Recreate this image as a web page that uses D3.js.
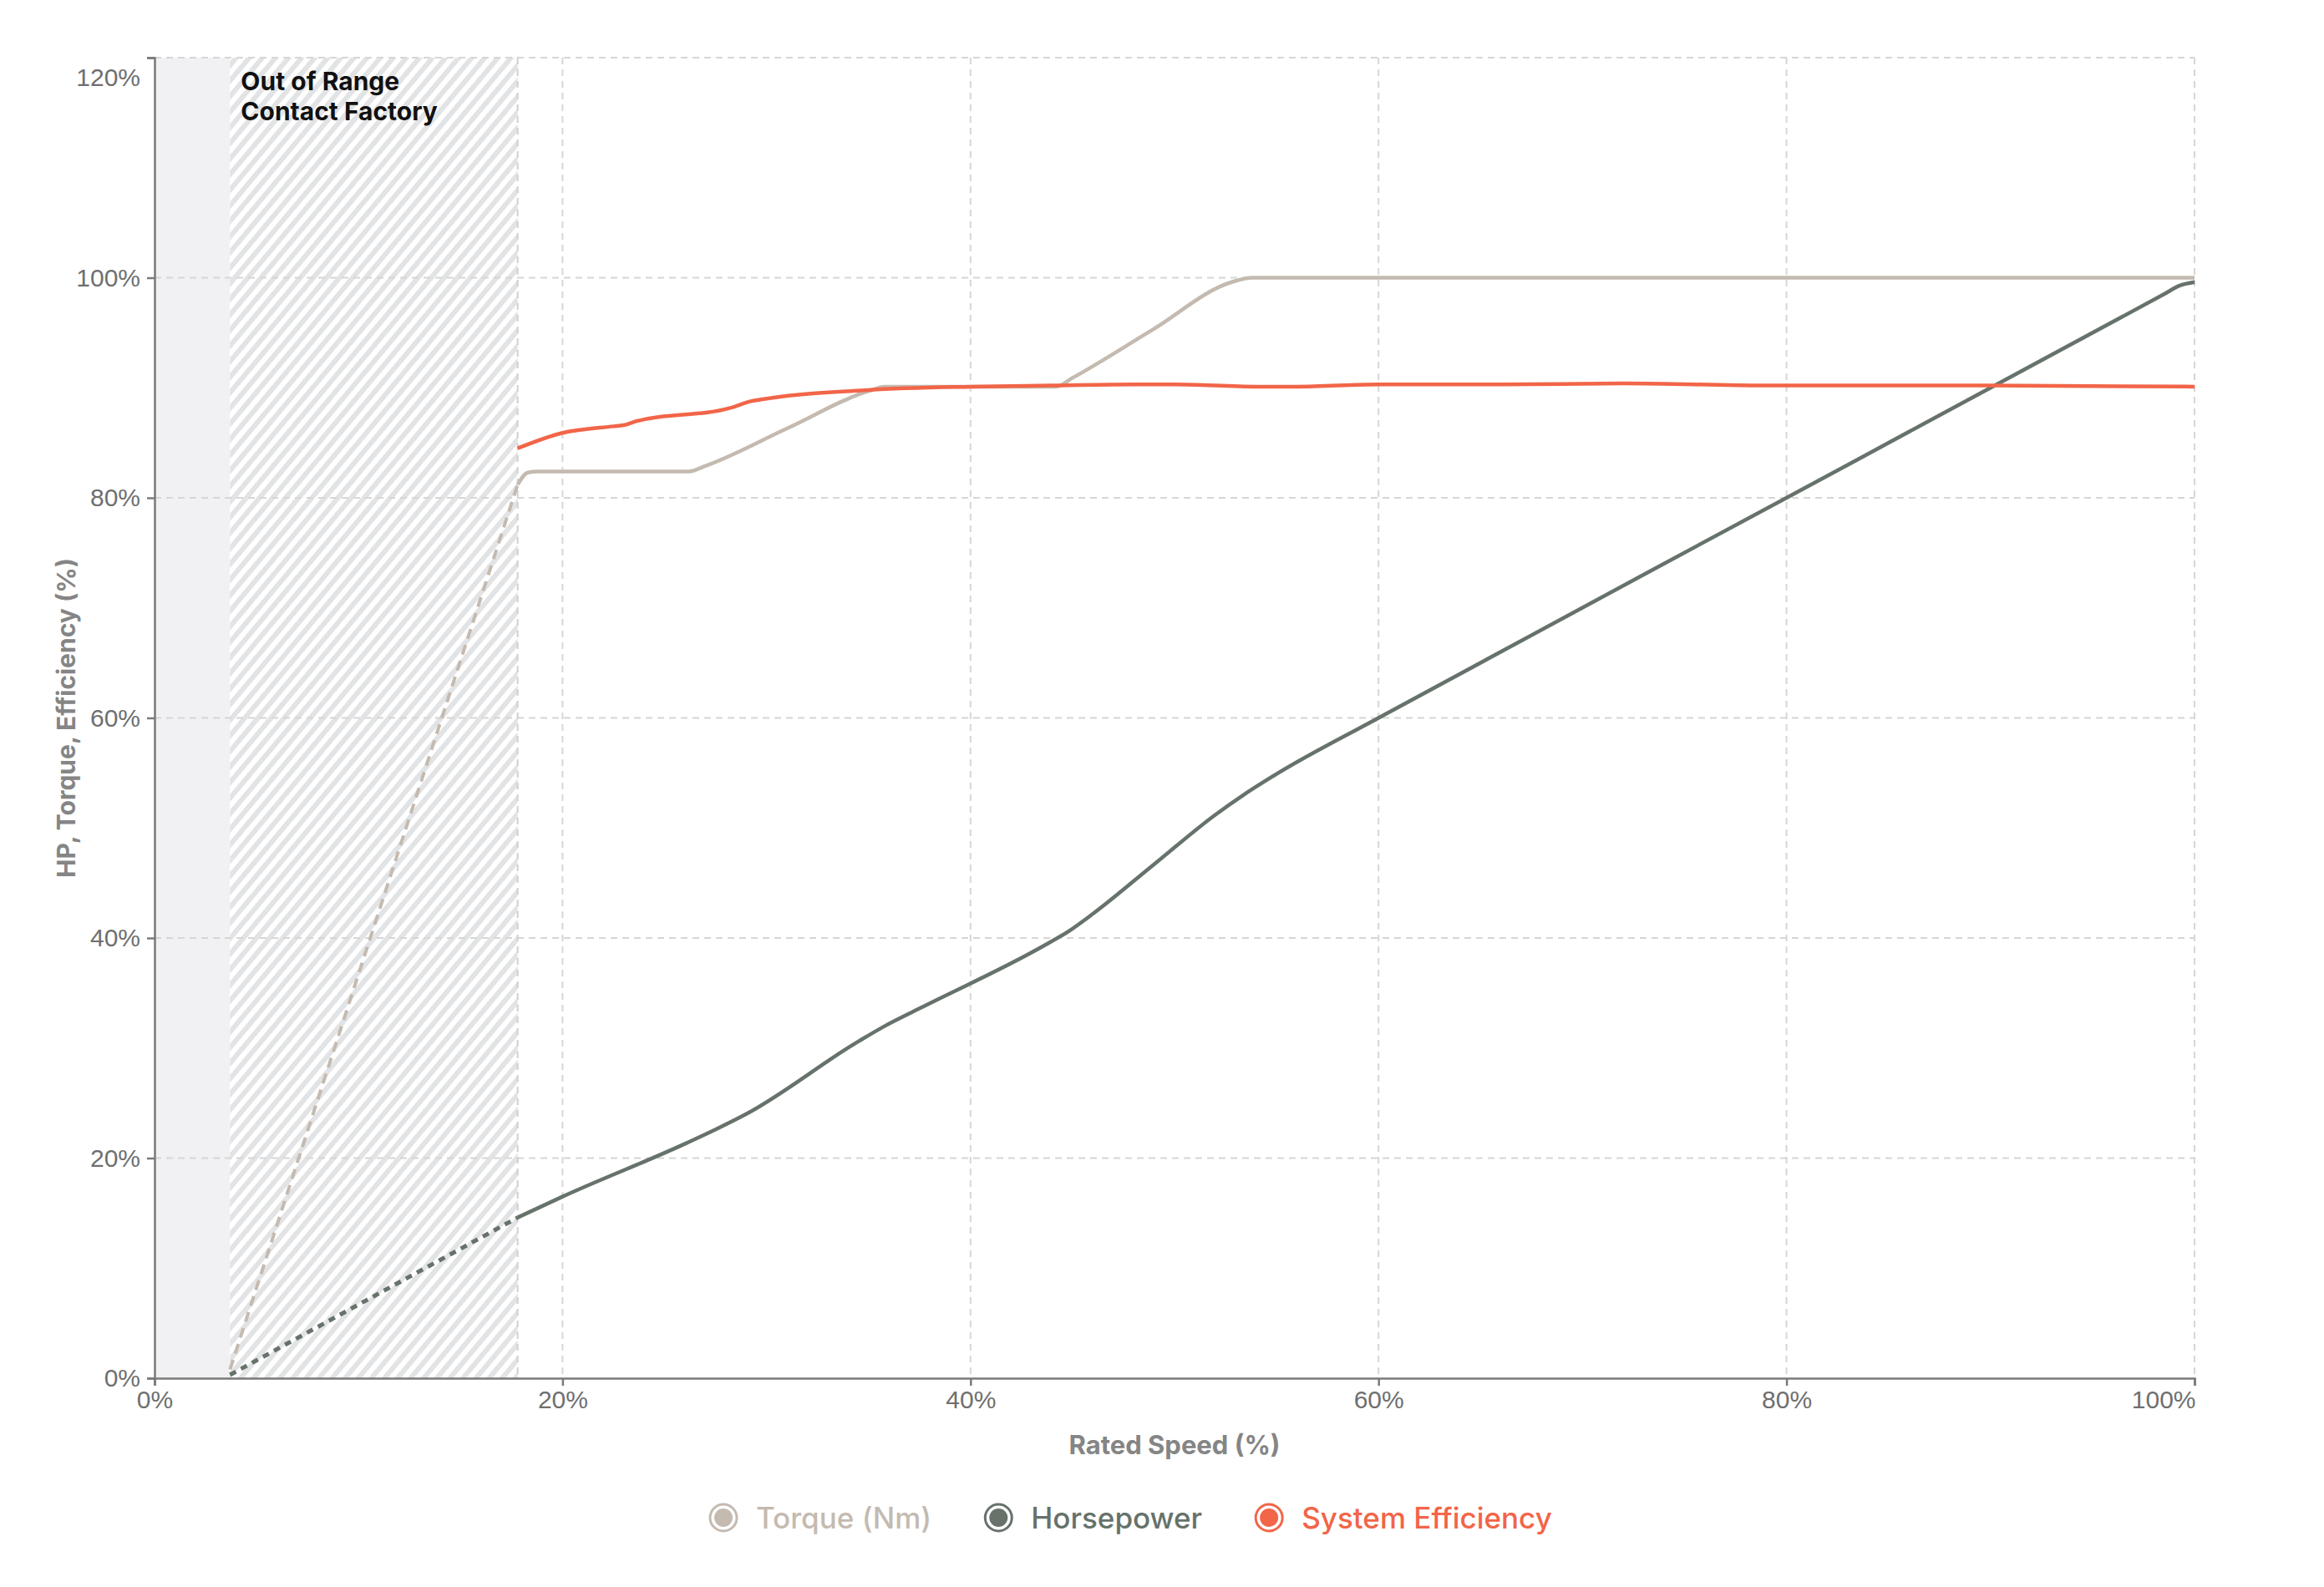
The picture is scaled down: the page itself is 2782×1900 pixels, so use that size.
<!DOCTYPE html>
<html>
<head>
<meta charset="utf-8">
<script src="https://cdn.jsdelivr.net/npm/d3@7"></script>
<style>
  body { margin: 0; background: #fff; }
  svg { font-family: Inter, "Noto Sans", sans-serif; }
</style>
</head>
<body>
<div class="chart"></div>
<script>
// values, speed in % of rated
var outOfRange = [3.7, 17.8];
var xTicks = [0, 20, 40, 60, 80, 100];
var yTicks = [0, 20, 40, 60, 80, 100, 120];

var torqueDashX = [3.7, 17.8];
var torqueDashY = [0.8, 81.2];
var torqueX = [17.8, 18.3, 18.8, 26.2, 27, 31, 35, 35.8, 44.2, 45, 48.9, 52.8, 53.8, 100];
var torqueY = [81.2, 82.3, 82.4, 82.4, 82.9, 86.3, 89.7, 90.1, 90.1, 90.9, 95.25, 99.6, 100, 100];

var hpDashX = [3.7, 17.8];
var hpDashY = [0.3, 14.6];
var hpX = [17.8, 20, 26, 27.5, 29, 34.5, 35.8, 37.5, 43.5, 44.8, 46, 49, 52, 53.3, 55, 60, 80, 98.5, 99.3, 100];
var hpY = [14.6, 16.5, 21.3, 22.6, 24, 30.6, 32, 33.6, 39.2, 40.6, 42.2, 46.7, 51.2, 52.9, 54.9, 60, 80, 98.5, 99.3, 99.6];

var effX = [17.8, 20, 22.5, 23, 23.5, 28.3, 29.3, 35, 40, 44, 48, 50, 54, 56, 60, 66, 72, 79, 90, 100];
var effY = [84.5, 85.9, 86.5, 86.6, 86.9, 88.2, 88.8, 89.8, 90.1, 90.2, 90.3, 90.3, 90.1, 90.1, 90.3, 90.3, 90.4, 90.2, 90.2, 90.1];

var seriesNames = ["Torque (Nm)", "Horsepower", "System Efficiency"];
var seriesColors = ["#c4bab0", "#66726a", "#f26548"];

var W = 2782, H = 1900;
var margin = { top: 69, right: 155, bottom: 250, left: 185 };
var innerW = W - margin.left - margin.right;
var innerH = H - margin.top - margin.bottom;

var svg = d3.select(".chart").append("svg")
  .attr("width", W)
  .attr("height", H);

var defs = svg.append("defs");
var pat = defs.append("pattern")
  .attr("id", "hatch")
  .attr("patternUnits", "userSpaceOnUse")
  .attr("width", 12)
  .attr("height", 12)
  .attr("patternTransform", "rotate(40)");
pat.append("rect").attr("width", 12).attr("height", 12).attr("fill", "#ffffff");
pat.append("rect").attr("width", 6).attr("height", 12).attr("fill", "#e2e3e5");

var g = svg.append("g").attr("transform", `translate(${margin.left},${margin.top})`);

var x = d3.scaleLinear().domain([0, 100]).range([0, innerW]);
var y = d3.scaleLinear().domain([0, 120]).range([innerH, 0]);

// out of range zones
g.append("rect")
  .attr("x", x(0))
  .attr("y", 0)
  .attr("width", x(outOfRange[0]) - x(0))
  .attr("height", innerH)
  .attr("fill", "#f1f1f3");
g.append("rect")
  .attr("x", x(outOfRange[0]))
  .attr("y", 0)
  .attr("width", x(outOfRange[1]) - x(outOfRange[0]))
  .attr("height", innerH)
  .attr("fill", "url(#hatch)");

// grid
g.append("g").selectAll("line.hgrid")
  .data(yTicks.filter(d => d > 0))
  .enter().append("line")
  .attr("x1", 0).attr("x2", innerW)
  .attr("y1", d => y(d)).attr("y2", d => y(d))
  .attr("stroke", "#d6d6d6")
  .attr("stroke-width", 2)
  .attr("stroke-dasharray", "8,6");
g.append("g").selectAll("line.vgrid")
  .data(xTicks.filter(d => d > 0))
  .enter().append("line")
  .attr("x1", d => x(d)).attr("x2", d => x(d))
  .attr("y1", 0).attr("y2", innerH)
  .attr("stroke", "#d6d6d6")
  .attr("stroke-width", 2)
  .attr("stroke-dasharray", "8,6");
g.append("line")
  .attr("x1", x(outOfRange[1])).attr("x2", x(outOfRange[1]))
  .attr("y1", 0).attr("y2", innerH)
  .attr("stroke", "#d0d0d0")
  .attr("stroke-width", 2)
  .attr("stroke-dasharray", "8,6");

// axes
var xAxis = d3.axisBottom(x)
  .tickValues(xTicks)
  .tickSize(9)
  .tickPadding(6)
  .tickFormat(d => d + "%");
var gx = g.append("g")
  .attr("transform", `translate(0,${innerH})`)
  .call(xAxis);
gx.selectAll("text").filter(d => d == 100).attr("text-anchor", "end").attr("x", 1);

var yAxis = d3.axisLeft(y)
  .tickValues(yTicks)
  .tickSize(9)
  .tickPadding(8)
  .tickFormat(d => d + "%");
var gy = g.append("g").call(yAxis);
gy.selectAll("text").filter(d => d == 120).attr("dy", "1.1em");

[gx, gy].forEach(a => {
  a.select(".domain").attr("stroke", "#7a7a7a").attr("stroke-width", 2.5);
  a.selectAll(".tick line").attr("stroke", "#7a7a7a").attr("stroke-width", 2.5);
  a.selectAll("text").style("font-size", "30px").style("fill", "#6f6f6f");
});

// lines
var line = d3.line()
  .x(d => x(d[0]))
  .y(d => y(d[1]))
  .curve(d3.curveMonotoneX);

function draw(xs, ys, color, width, dash) {
  var pts = xs.map((v, i) => [v, ys[i]]);
  var p = g.append("path")
    .datum(pts)
    .attr("d", line)
    .attr("fill", "none")
    .attr("stroke", color)
    .attr("stroke-width", width)
    .attr("stroke-linejoin", "round");
  if (dash) p.attr("stroke-dasharray", dash);
}

draw(torqueDashX, torqueDashY, seriesColors[0], 4, "12,8");
draw(hpDashX, hpDashY, seriesColors[1], 5, "8,7");
draw(torqueX, torqueY, seriesColors[0], 4.5);
draw(hpX, hpY, seriesColors[1], 4.5);
draw(effX, effY, seriesColors[2], 4.5);

// annotation
var note = g.append("text")
  .attr("y", 39)
  .style("font-size", "30px")
  .style("font-weight", 700)
  .style("fill", "#111");
note.append("tspan").attr("x", x(outOfRange[0]) + 13).text("Out of Range");
note.append("tspan").attr("x", x(outOfRange[0]) + 13).attr("dy", 36).text("Contact Factory");

// axis titles
svg.append("text")
  .attr("x", margin.left + innerW / 2)
  .attr("y", 1741)
  .attr("text-anchor", "middle")
  .style("font-size", "31px")
  .style("font-weight", 700)
  .style("fill", "#858585")
  .text("Rated Speed (%)");

svg.append("text")
  .attr("transform", `translate(90,${margin.top + innerH / 2}) rotate(-90)`)
  .attr("text-anchor", "middle")
  .style("font-size", "30px")
  .style("font-weight", 700)
  .style("fill", "#858585")
  .text("HP, Torque, Efficiency (%)");

// legend
var legend = svg.append("g").attr("transform", "translate(0,1817)");
var cx = 866;
seriesNames.forEach((name, i) => {
  var item = legend.append("g").attr("transform", `translate(${cx},0)`);
  item.append("circle").attr("r", 16).attr("fill", "none")
    .attr("stroke", seriesColors[i]).attr("stroke-width", 3);
  item.append("circle").attr("r", 11).attr("fill", seriesColors[i]);
  var t = item.append("text")
    .attr("x", 39)
    .attr("dy", "0.36em")
    .style("font-size", "35px")
    .style("font-weight", 500)
    .style("fill", seriesColors[i])
    .text(name);
  cx += 39 + t.node().getComputedTextLength() + 80;
});
</script>
</body>
</html>
